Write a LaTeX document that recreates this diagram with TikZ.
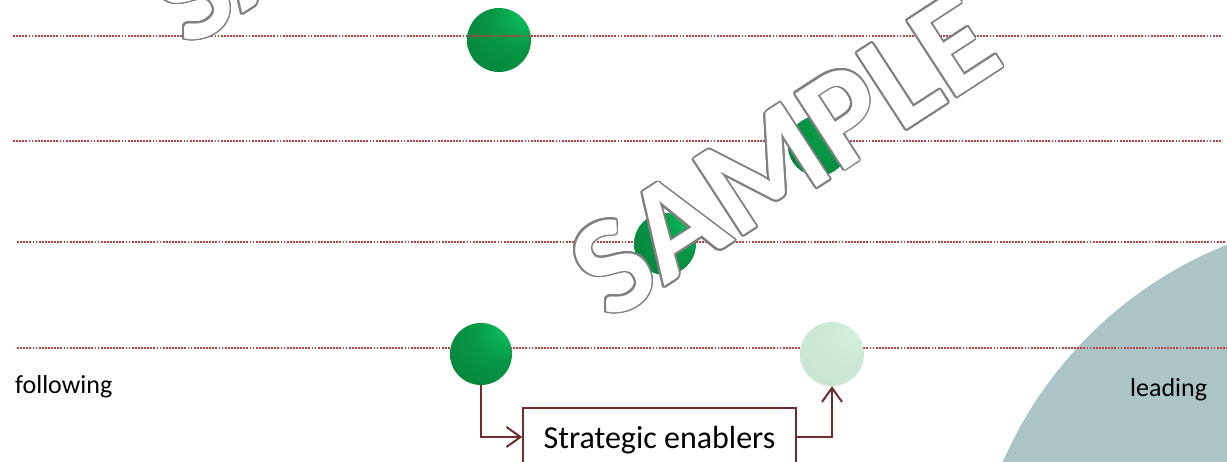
\documentclass[tikz,border=0pt]{standalone}
\usepackage{fontspec}
\setmainfont{Carlito}
\usetikzlibrary{arrows.meta}

\definecolor{dotred}{RGB}{188,62,62}
\definecolor{linkc}{RGB}{112,44,44}
\definecolor{tealdisc}{RGB}{171,197,198}
\definecolor{wmgray}{RGB}{128,128,128}
\definecolor{ballhi}{RGB}{12,196,96}
\definecolor{ballmid}{RGB}{8,152,70}
\definecolor{balldark}{RGB}{0,92,38}
\definecolor{palehi}{RGB}{212,242,224}
\definecolor{palemid}{RGB}{205,232,215}
\definecolor{paledark}{RGB}{196,220,204}

\pgfdeclareradialshading{greenball}{\pgfpoint{22bp}{22bp}}{%
  color(0bp)=(ballhi); color(22bp)=(ballmid); color(95bp)=(balldark); color(100bp)=(balldark)}
\pgfdeclareradialshading{paleshade}{\pgfpoint{22bp}{22bp}}{%
  color(0bp)=(palehi); color(22bp)=(palemid); color(95bp)=(paledark); color(100bp)=(paledark)}

\begin{document}
\begin{tikzpicture}[x=1pt,y=-1pt,
  guide/.style={draw=dotred, line width=2pt, dash pattern=on 1.8pt off 1.3pt},
  ball/.style={circle, inner sep=0pt, minimum size=#1, shading=greenball},
  fadedball/.style={circle, inner sep=0pt, minimum size=#1, shading=paleshade},
  enabler/.style={draw=linkc, line width=1.6pt, fill=white, minimum width=273pt,
    minimum height=64pt, inner sep=0pt, font=\fontsize{32}{36}\selectfont},
  link/.style={draw=linkc, line width=2pt, -{Straight Barb[length=14pt,width=20pt]}},
  lbl/.style={inner sep=0pt, font=\fontsize{26}{30}\selectfont},
  wmtext/.style={inner sep=0pt, rotate=33, font=\fontsize{140}{140}\selectfont\bfseries}
]
\useasboundingbox (0,0) rectangle (1227,462);
\clip (0,0) rectangle (1227,462);

% large disc in the lower right corner
\fill[tealdisc] (1378,625) circle[radius=409pt];

% horizontal guide lines
\draw[guide] (13,141) -- (1222,141);
\draw[guide] (17,242) -- (1225,242);
\draw[guide] (17,348) -- (1227,348);

% spheres
\node[ball=64pt] (s1) at (499,40) {};
\node[ball=60pt] (s2) at (818,146) {};
\node[ball=62pt] (s3) at (665,244) {};
\node[ball=62pt] (s4) at (481,354) {};
\node[fadedball=64pt] (s5) at (832,354) {};

\draw[guide] (13,36) -- (1222,36);

% enabler box and its connectors
\node[enabler] (box) at (659.5,440) {Strategic enablers};
\draw[link] (s4.south) |- ([yshift=3pt]box.west);
\draw[link] ([yshift=3pt]box.east) -| (s5.south);

% axis labels
\node[lbl, anchor=base west] (fol) at (15,394) {following};
\node[lbl, anchor=base west] (lead) at (1130,397) {leading};

% watermark: grey copies ring a white copy to form an outline
\coordinate (wm1) at (784,155);
\coordinate (wm2) at (362,-118);
\foreach \w in {wm1,wm2}{
  \foreach \a in {0,20,...,340}
    \node[wmtext, text=wmgray] (\w-o\a) at ([shift={(\a:1.8pt)}]\w) {SAMPLE};
  \node[wmtext, text=white] (\w-t) at (\w) {SAMPLE};
}
\end{tikzpicture}
\end{document}
